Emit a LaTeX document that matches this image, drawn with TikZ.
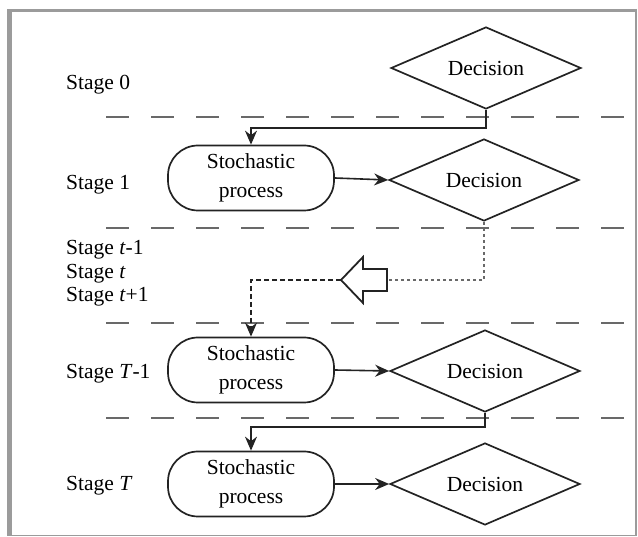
\documentclass[tikz,border=0pt]{standalone}
\usepackage{fontspec}
\setmainfont{Liberation Serif}
\usetikzlibrary{shapes.geometric,arrows.meta}
\definecolor{framegray}{RGB}{155,155,155}
\definecolor{dashgray}{RGB}{105,105,105}
\definecolor{lineblack}{RGB}{35,35,35}
\begin{document}
\begin{tikzpicture}[x=1pt,y=-1pt,
  every node/.style={font=\rmfamily\fontsize{21.5}{29}\selectfont},
  decision/.style={draw=lineblack, line width=1.7pt, diamond, aspect=2.3, minimum width=190pt, minimum height=82pt, inner sep=0pt},
  stoch/.style={draw=lineblack, line width=1.7pt, rectangle, rounded corners=30pt, minimum width=166pt, minimum height=65pt, align=center, inner sep=0pt},
  stagelbl/.style={anchor=base west, inner sep=0pt},
  sepline/.style={dashgray, line width=2.4pt, dash pattern=on 23pt off 22pt},
  flow/.style={draw=lineblack, line width=1.6pt, -{Stealth[length=14pt,width=12pt]}},
  dotline/.style={dashgray, line width=1.8pt, dash pattern=on 3pt off 3pt},
  smalldash/.style={lineblack, line width=1.5pt, dash pattern=on 5pt off 3pt, -{Stealth[length=14pt,width=12pt]}},
  blockarrow/.style={draw=lineblack, line width=1.8pt, fill=white}
]
\useasboundingbox (0,0) rectangle (638,537);
% frame
\fill[framegray] (7,9) rectangle (12,536);
\fill[framegray] (7,9) rectangle (637,12.5);
\draw[framegray, line width=1.5pt] (636,9) -- (636,535.5) -- (7,535.5);

% separators
\draw[sepline] (106,117) -- (625,117);
\draw[sepline] (106,228) -- (625,228);
\draw[sepline] (106,323) -- (625,323);
\draw[sepline] (106,418) -- (625,418);

% stage labels
\node[stagelbl] (s0) at (66,90) {Stage 0};
\node[stagelbl] (s1) at (66,190) {Stage 1};
\node[stagelbl] (st1) at (66,255) {Stage \textit{t}-1};
\node[stagelbl] (st) at (66,278.5) {Stage \textit{t}};
\node[stagelbl] (st2) at (66,302) {Stage \textit{t}+1};
\node[stagelbl] (sT1) at (66,379) {Stage \textit{T}-1};
\node[stagelbl] (sT) at (66,491) {Stage \textit{T}};

% nodes
\node[decision] (d0) at (486,68) {Decision};
\node[stoch] (b1) at (251,178) {Stochastic\\process};
\node[decision] (d1) at (484,180) {Decision};
\node[stoch] (b2) at (251,370) {Stochastic\\process};
\node[decision] (d2) at (485,371) {Decision};
\node[stoch] (b3) at (251,484) {Stochastic\\process};
\node[decision] (d3) at (485,484) {Decision};

% block arrow
\coordinate (bt) at (341,280);
\coordinate (bs) at (387,280);
\draw[blockarrow] (bt) -- (363,257) -- (363,269) -- (387,269) -- (387,291) -- (363,291) -- (363,303) -- cycle;

% connectors
\draw[flow] (d0.south) -- (d0.south |- 0,128) -| (b1.north);
\draw[flow] (b1.east) -- (d1.west);
\draw[dotline] (d1.south) |- (bs);
\draw[smalldash] (bt) -| (b2.north);
\draw[flow] (b2.east) -- (d2.west);
\draw[flow] (d2.south) -- (d2.south |- 0,427) -| (b3.north);
\draw[flow] (b3.east) -- (d3.west);
\end{tikzpicture}
\end{document}
